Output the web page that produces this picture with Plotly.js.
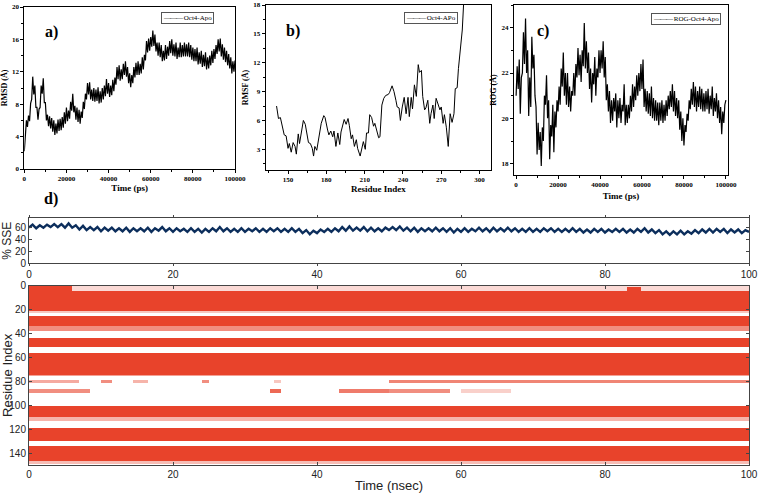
<!DOCTYPE html>
<html>
<head>
<meta charset="utf-8">
<script src="https://cdn.plot.ly/plotly-3.0.1.min.js"></script>
<style>html,body{margin:0;padding:0;background:#fff;}#chart{width:758px;height:493px;}</style>
</head>
<body>
<div id="chart"></div>
<script>
// ---------- DATA ----------
// a) RMSD (Å), sampled every 500 ps from 0 to 100000 ps
const rmsdName = 'Oct4-Apo';
const rmsdStepPs = 500;
const rmsd = [2.2,4.9,6.0,5.2,6.6,5.9,8.1,8.6,11.4,9.2,10.3,7.6,7.6,6.1,7.4,7.6,10.3,9.3,11.2,8.2,
8.2,6.0,6.7,5.3,6.5,5.0,6.3,4.6,6.0,4.2,5.6,4.4,6.1,4.7,6.2,4.8,6.4,5.1,7.0,5.6,
7.6,5.9,7.2,6.2,8.3,7.2,9.3,7.0,7.8,6.1,7.6,5.8,7.3,5.6,7.1,6.3,8.3,7.4,9.3,8.6,
10.6,9.2,10.7,8.6,9.8,8.4,10.0,8.3,9.8,8.4,10.1,8.1,9.6,8.2,10.0,8.6,10.3,9.0,11.1,9.3,
10.6,8.9,10.3,9.1,11.0,9.6,11.3,10.4,12.6,11.1,12.8,10.9,12.3,11.1,13.0,11.6,13.3,11.4,12.6,10.6,
11.8,10.1,11.6,10.6,12.6,11.3,13.1,11.6,13.3,11.6,13.0,11.8,13.8,12.3,14.1,13.4,15.8,14.4,16.1,14.6,
16.3,15.1,17.1,15.2,16.6,14.5,15.6,14.0,15.6,13.8,15.3,13.3,14.6,13.4,15.3,13.6,15.1,14.0,15.8,14.3,
16.0,14.0,15.4,13.9,15.6,13.6,15.0,13.8,15.6,13.8,15.3,13.9,15.6,13.9,15.4,13.9,15.6,13.8,15.3,13.5,
15.0,13.3,14.8,13.3,15.0,12.9,14.4,13.0,14.6,12.6,14.1,12.7,14.4,12.3,13.8,12.4,14.0,12.8,14.6,13.1,
14.8,13.6,15.3,14.2,16.0,14.5,16.1,13.9,15.4,13.5,15.0,13.2,14.6,12.8,14.2,12.4,13.8,11.8,13.3,12.0,
13.4];

// b) RMSF (Å) per residue
const rmsfName = 'Oct4-APo';
const rmsfResidue = [141,142.5,144,146,147,148.5,150,151,152.5,154,155.5,156.5,158,159,160.5,162,163.5,165,166,167.5,
169,170,171,172.5,174.5,176,178,179,181,182,183.5,185,186,187.5,189,190.5,191.5,193,194,195.5,
197,198,199.5,200.5,202,203.5,204.5,206.5,208,209,210.5,211.5,213,214,215.5,217,218,219.5,221,222,
223.5,225,226.5,228.5,229.5,231.5,233,234.5,235.5,237,238,239.5,241,242.5,244,245,246.5,247.5,249,250.5,
252,253,254.5,255.5,257,258,259.5,261,262,263.5,264.5,266,267.5,269,270,271.5,272.5,274,275.5,277,
278.5,280,281,282.5,283.5,285,286.5,287.5];
const rmsf = [7.5,6.2,6.3,5.0,4.5,4.4,3.1,3.6,2.7,3.7,3.3,2.5,4.6,3.6,4.8,6.0,5.6,4.6,3.7,3.6,
3.1,2.3,3.3,2.9,4.7,5.7,6.5,6.3,5.0,4.5,4.9,4.3,4.9,3.3,4.7,3.5,4.8,5.6,6.1,5.6,
6.2,5.5,4.1,4.5,3.3,4.0,3.1,2.3,3.3,3.8,3.0,4.7,4.7,6.6,6.3,5.4,5.7,4.8,4.2,4.3,
7.6,8.3,8.6,8.7,8.9,9.6,9.0,8.1,7.4,7.3,6.0,7.4,8.4,6.7,8.4,6.4,8.4,7.2,9.7,8.5,
11.8,11.0,11.2,8.5,7.1,7.3,8.1,5.7,6.7,7.6,6.2,8.3,7.8,7.1,7.4,5.7,6.6,5.3,3.3,6.7,
5.8,6.7,9.3,9.4,11.4,13.7,15.4,18.0];

// c) Radius of gyration (Å), sampled every 500 ps
const rogName = 'ROG-Oct4-Apo';
const rogStepPs = 500;
const rog = [21.0,22.3,21.3,22.6,20.2,21.8,22.0,23.8,22.4,24.4,22.0,23.0,20.1,21.8,20.5,23.6,22.2,22.8,21.0,20.5,
18.4,19.8,18.6,19.4,17.9,19.6,19.0,21.0,20.6,21.9,20.0,20.8,18.2,19.7,19.2,20.6,18.5,20.3,19.6,20.8,
20.3,21.4,20.6,22.2,21.4,22.9,21.0,22.0,20.6,22.0,20.5,21.4,20.3,21.2,21.0,22.0,21.0,22.4,21.8,23.1,
21.9,22.8,21.6,23.0,22.3,24.2,22.2,23.4,22.0,22.9,21.3,22.2,20.7,22.0,21.5,22.7,21.0,22.2,21.8,23.0,
22.0,23.0,22.2,23.4,21.8,22.7,20.8,21.5,20.3,21.2,19.8,20.8,19.9,20.9,20.3,21.1,19.6,20.8,20.0,20.9,
19.8,20.6,20.3,21.5,19.7,20.6,19.8,20.6,20.0,21.0,20.3,21.5,20.5,21.4,20.8,21.9,21.0,22.0,21.2,22.4,
21.3,22.6,20.5,21.3,20.3,21.2,20.2,21.1,20.1,21.4,20.0,20.9,19.9,20.8,19.9,20.7,19.7,20.7,19.9,20.8,
19.8,20.6,19.9,20.8,20.1,21.0,20.4,21.2,20.5,21.5,20.3,21.2,20.1,20.9,20.0,20.8,19.5,20.3,19.0,20.0,
18.8,19.7,19.4,20.2,19.9,20.8,20.4,21.3,20.6,21.6,20.5,21.4,20.3,21.2,20.5,21.4,20.4,21.3,20.3,21.1,
20.3,21.2,20.4,21.3,20.2,21.0,20.4,21.4,20.1,20.9,20.3,21.1,20.0,20.8,19.8,20.5,19.3,20.3,19.8,20.6,
20.8];

// d) % SSE, sampled every 0.5 ns
const sseStepNs = 0.5;
const sse = [59,64,58,63,59,64,60,65,60,65,59,66,59,63,56,62,55,60,55,60,
53,59,54,59,53,58,53,59,52,58,53,58,53,59,52,58,54,60,53,58,
52,58,53,57,52,58,52,57,51,57,52,58,53,60,53,58,52,57,52,58,
52,57,53,58,52,57,52,58,53,58,52,57,52,58,52,57,50,55,48,54,
50,56,52,57,52,58,53,60,54,61,54,59,54,60,53,59,53,58,53,59,
55,60,55,61,54,59,53,59,52,58,53,58,53,59,53,58,52,58,51,57,
52,58,52,57,53,59,53,58,52,59,53,58,53,59,53,58,52,57,52,58,
52,57,52,58,53,58,52,57,52,57,52,58,52,57,51,56,51,57,52,57,
51,56,52,57,52,57,51,56,51,57,52,58,51,56,50,55,48,53,47,53,
48,54,48,53,49,55,50,56,51,57,51,57,52,57,50,56,51,56,50,55,
52];

// d) secondary-structure blocks: residue range x time range (ns) x occupancy
const blockResFrom  = [5, 1, 1, 2, 22, 26, 34, 44, 57, 75, 79, 79, 79, 79, 79, 79, 87, 87, 87, 87, 87, 101, 110, 119, 134, 147];
const blockResTo    = [21, 4, 4, 4, 22, 33, 37, 51, 74, 75, 81, 81, 81, 81, 81, 81, 89, 89, 89, 89, 89, 109, 112, 129, 146, 148];
const blockTimeFrom = [0, 0, 6, 83, 0, 0, 0, 0, 0, 0, 0, 10, 14.5, 24, 34, 50, 0, 33.5, 43, 50, 60, 0, 0, 0, 0, 0];
const blockTimeTo   = [100, 6, 100, 85, 100, 100, 100, 100, 100, 100, 7, 11.5, 16.5, 25, 35, 100, 8.5, 35, 50, 58.5, 67, 100, 100, 100, 100, 100];
const blockLevel    = [1, 1, 0.2, 1, 0.3, 1, 0.6, 1, 1, 0.5, 0.45, 0.6, 0.4, 0.6, 0.3, 0.65, 0.6, 0.8, 0.7, 0.6, 0.25, 1, 0.4, 1, 1, 0.35];
const nResidues = 150;
const heatStepNs = 0.5;

// ---------- BUILD ----------
const timeA = rmsd.map((_, i) => i * rmsdStepPs);
const timeC = rog.map((_, i) => i * rogStepPs);
const timeD = sse.map((_, i) => i * sseStepNs);

const heatX = [];
for (let t = heatStepNs / 2; t < 100; t += heatStepNs) heatX.push(t);
const heatY = [];
for (let r = 0; r <= nResidues; r++) heatY.push(r);
const heatZ = heatY.map(() => heatX.map(() => 0));
for (let b = 0; b < blockLevel.length; b++) {
  for (let r = blockResFrom[b]; r <= blockResTo[b]; r++) {
    heatX.forEach((t, j) => {
      if (t >= blockTimeFrom[b] && t < blockTimeTo[b]) heatZ[r][j] = Math.max(heatZ[r][j], blockLevel[b]);
    });
  }
}

const serif = 'Liberation Serif, Times New Roman, serif';
const sans = 'Liberation Sans, Arial, sans-serif';
const tickF = {family: serif, size: 7, color: '#000', weight: 'bold'};
const titleF = {family: serif, size: 9, color: '#000', weight: 'bold'};

function topAxis(extra) {
  return Object.assign({
    showline: true, linecolor: '#000', linewidth: 1, mirror: true,
    ticks: 'outside', ticklen: 3, tickcolor: '#000', tickfont: tickF,
    showgrid: false, zeroline: false, fixedrange: true, tickformat: 'd'
  }, extra);
}
function botAxis(extra) {
  return Object.assign({
    showline: true, linecolor: '#444', linewidth: 1, mirror: 'ticks',
    ticks: 'inside', ticklen: 3, tickcolor: '#444',
    tickfont: {family: sans, size: 10, color: '#222'},
    showgrid: false, zeroline: false, fixedrange: true
  }, extra);
}

const traces = [
  {x: timeA, y: rmsd, type: 'scatter', mode: 'lines', name: rmsdName, showlegend: false,
   line: {color: '#000', width: 1.2}, xaxis: 'x', yaxis: 'y'},
  {x: rmsfResidue, y: rmsf, type: 'scatter', mode: 'lines', name: rmsfName, showlegend: false,
   line: {color: '#000', width: 1}, xaxis: 'x2', yaxis: 'y2'},
  {x: timeC, y: rog, type: 'scatter', mode: 'lines', name: rogName, showlegend: false,
   line: {color: '#000', width: 1.2}, xaxis: 'x3', yaxis: 'y3'},
  {x: timeD, y: sse, type: 'scatter', mode: 'lines', showlegend: false,
   line: {color: '#0c2e5c', width: 2.4}, xaxis: 'x4', yaxis: 'y4'},
  {x: heatX, y: heatY, z: heatZ, type: 'heatmap', showscale: false, zmin: 0, zmax: 1,
   colorscale: [[0, '#ffffff'], [1, '#e8432b']], xaxis: 'x5', yaxis: 'y5', hoverinfo: 'skip'}
];

const W = 758, H = 493;
const px = v => v / W, py = v => 1 - v / H;

function legendBox(name, xLeft, yTop) {
  return {text: '<span style="letter-spacing:-1px">———</span> ' + name,
    x: px(xLeft), y: py(yTop), xref: 'paper', yref: 'paper', xanchor: 'left', yanchor: 'top',
    showarrow: false, bgcolor: '#fff', bordercolor: '#555', borderwidth: 1, borderpad: 1,
    font: {family: serif, size: 7, color: '#000'}};
}

const layout = {
  width: W, height: H, margin: {l: 0, r: 0, t: 0, b: 0},
  paper_bgcolor: '#fff', plot_bgcolor: '#fff', showlegend: false,
  xaxis: topAxis({domain: [px(24.3), px(235)], anchor: 'y', range: [0, 100000],
    tickvals: [0, 20000, 40000, 60000, 80000, 100000],
    minor: {ticks: 'outside', ticklen: 2, tickcolor: '#000', dtick: 10000},
    title: {text: 'Time (ps)', font: titleF, standoff: 2}}),
  yaxis: topAxis({domain: [py(169), py(7)], anchor: 'x', range: [0, 20], tickvals: [0, 4, 8, 12, 16, 20],
    minor: {ticks: 'outside', ticklen: 2, tickcolor: '#000', dtick: 2},
    title: {text: 'RMSD (Å)', font: {family: serif, size: 8, color: '#000', weight: 'bold'}, standoff: 3}}),
  xaxis2: topAxis({domain: [px(265.7), px(491)], anchor: 'y2', range: [132.5, 309],
    tickvals: [150, 180, 210, 240, 270, 300],
    minor: {ticks: 'outside', ticklen: 2, tickcolor: '#000', dtick: 15, tick0: 0},
    title: {text: 'Residue Index', font: titleF, standoff: 2}}),
  yaxis2: topAxis({domain: [py(170), py(5)], anchor: 'x2', range: [0.85, 18], tickvals: [3, 6, 9, 12, 15, 18],
    minor: {ticks: 'outside', ticklen: 2, tickcolor: '#000', dtick: 1.5, tick0: 0},
    title: {text: 'RMSF (Å)', font: {family: serif, size: 8, color: '#000', weight: 'bold'}, standoff: 3}}),
  xaxis3: topAxis({domain: [px(514), px(728)], anchor: 'y3', range: [-1000, 101000],
    tickvals: [0, 20000, 40000, 60000, 80000, 100000],
    minor: {ticks: 'outside', ticklen: 2, tickcolor: '#000', dtick: 10000, tick0: 0},
    title: {text: 'Time (ps)', font: titleF, standoff: 4}}),
  yaxis3: topAxis({domain: [py(175), py(5)], anchor: 'x3', range: [17.5, 25], tickvals: [18, 20, 22, 24],
    minor: {ticks: 'outside', ticklen: 2, tickcolor: '#000', dtick: 1, tick0: 0},
    title: {text: 'ROG (Å)', font: {family: serif, size: 8, color: '#000', weight: 'bold'}, standoff: 3}}),
  xaxis4: botAxis({domain: [px(29), px(749)], anchor: 'y4', range: [0, 100],
    tickvals: [0, 20, 40, 60, 80, 100], ticks: 'outside', ticklen: 2}),
  yaxis4: botAxis({domain: [py(263.3), py(218)], anchor: 'x4', range: [0, 75], tickvals: [0, 20, 40, 60],
    title: {text: '% SSE', font: {family: sans, size: 12, color: '#222'}, standoff: 2}}),
  xaxis5: botAxis({domain: [px(29), px(749)], anchor: 'y5', range: [0, 100],
    tickvals: [0, 20, 40, 60, 80, 100],
    title: {text: 'Time (nsec)', font: {family: sans, size: 13, color: '#222'}, standoff: 6}}),
  yaxis5: botAxis({domain: [py(465), py(285.7)], anchor: 'x5', range: [150, 0],
    tickvals: [0, 20, 40, 60, 80, 100, 120, 140],
    title: {text: 'Residue Index', font: {family: sans, size: 13, color: '#222'}, standoff: 4}}),
  annotations: [
    legendBox(rmsdName, 161, 12),
    legendBox(rmsfName, 404, 12),
    legendBox(rogName, 651, 13),
    {text: '<b>a)</b>', x: px(43), y: py(21), xref: 'paper', yref: 'paper', showarrow: false,
     font: {family: serif, size: 16, color: '#000'}},
    {text: '<b>b)</b>', x: px(293), y: py(20), xref: 'paper', yref: 'paper', showarrow: false,
     font: {family: serif, size: 16, color: '#000'}},
    {text: '<b>c)</b>', x: px(551), y: py(20), xref: 'paper', yref: 'paper', showarrow: false,
     font: {family: serif, size: 16, color: '#000'}},
    {text: '<b>d)</b>', x: px(42), y: py(199), xref: 'paper', yref: 'paper', showarrow: false,
     font: {family: serif, size: 16, color: '#000'}}
  ]
};

Plotly.newPlot('chart', traces, layout, {displayModeBar: false, staticPlot: true});
</script>
</body>
</html>
